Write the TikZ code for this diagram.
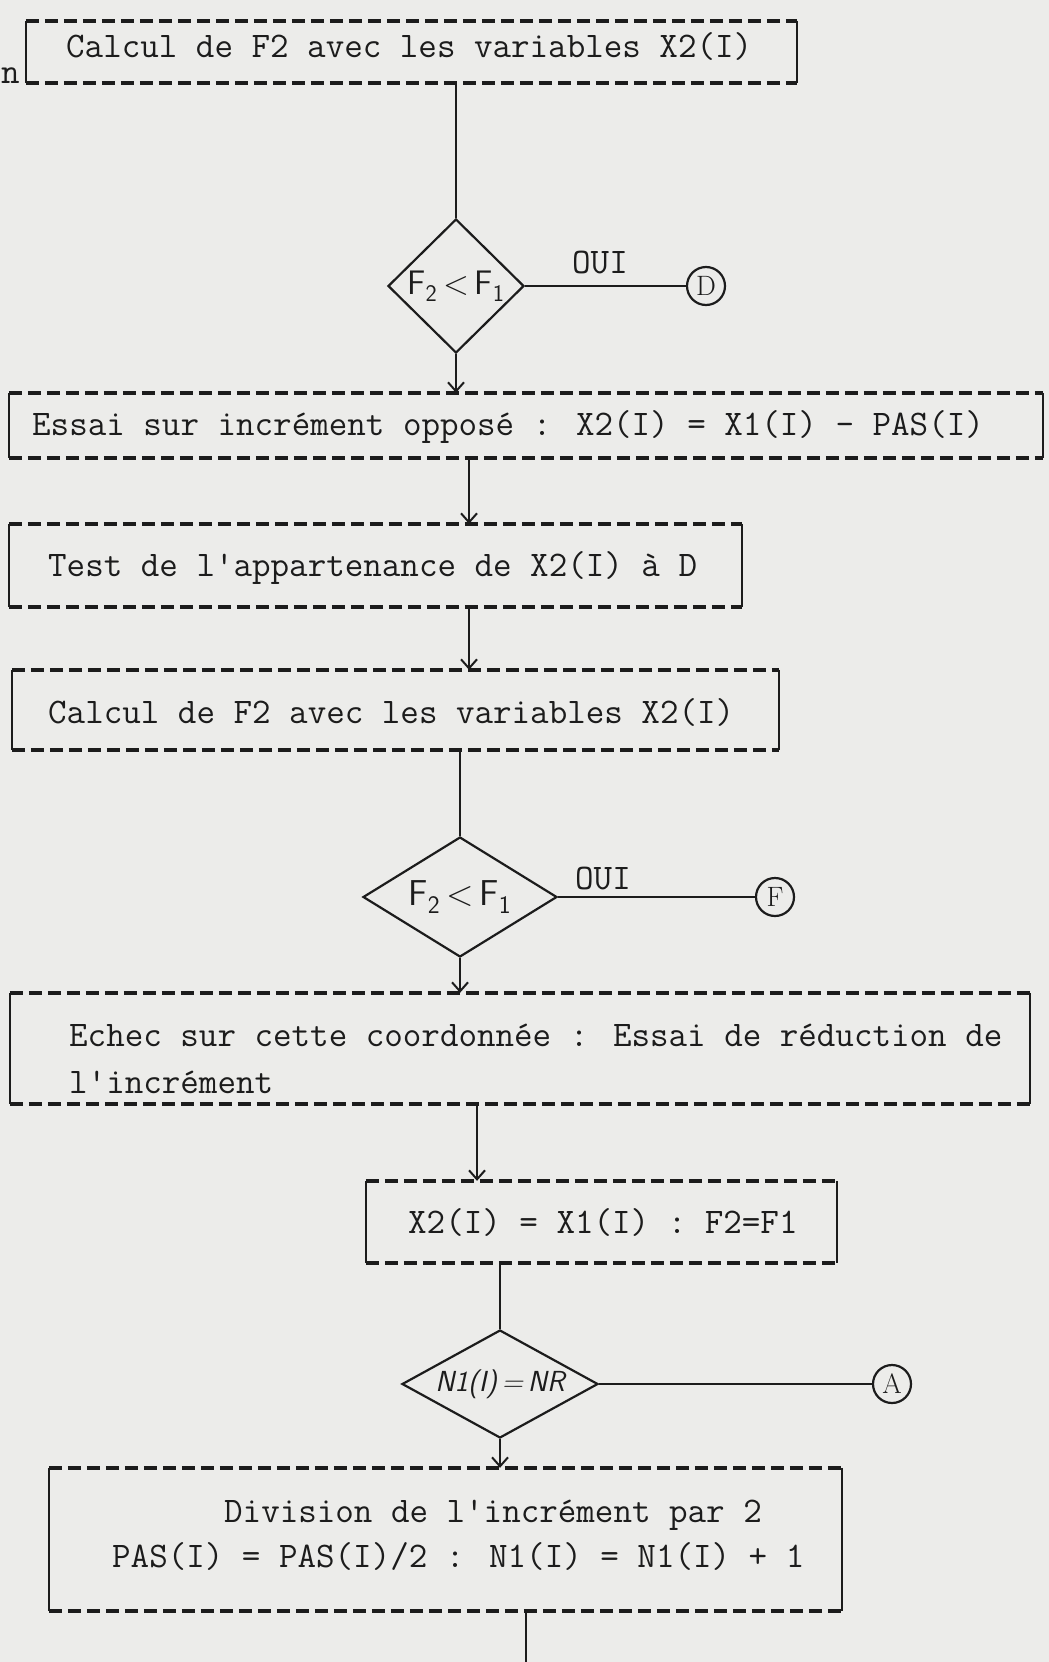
\documentclass[tikz,border=0pt]{standalone}
\usepackage{fontspec}
\usetikzlibrary{shapes.geometric,arrows.meta}
\definecolor{bg}{RGB}{236,236,234}
\definecolor{ink}{RGB}{28,28,28}
\newcommand\typewbox[1]{%
  \draw[dashline] (#1.north west) -- (#1.north east);
  \draw[dashline] (#1.south west) -- (#1.south east);
  \draw[sideline] (#1.north west) -- (#1.south west);
  \draw[sideline] (#1.north east) -- (#1.south east);}
\begin{document}
\begin{tikzpicture}[x=1pt,y=-1pt,
  tw/.style={font=\fontsize{36}{46}\selectfont\ttfamily, text=ink, inner sep=0pt, anchor=west, align=left},
  boxshape/.style={rectangle, inner sep=0pt},
  dashline/.style={draw=ink, line width=3.5pt, dash pattern=on 13pt off 6pt},
  sideline/.style={draw=ink, line width=1.6pt},
  conn/.style={draw=ink, line width=2pt},
  arr/.style={conn, -{Straight Barb[length=9pt,width=16pt]}},
  dec/.style={diamond, draw=ink, line width=2.2pt, inner sep=0pt, text=ink, font=\fontsize{34}{34}\selectfont\sffamily},
  conncirc/.style={circle, draw=ink, line width=2.2pt, minimum size=38pt, inner sep=0pt, text=ink, font=\fontsize{28}{28}\selectfont\rmfamily},
]
\fill[bg] (0,0) rectangle (1049,1662);
\useasboundingbox (0,0) rectangle (1049,1662);

% boxes
\node[boxshape, minimum width=771pt, minimum height=62pt] (b1) at (411.5,52) {};
\node[boxshape, minimum width=1034pt, minimum height=65pt] (b2) at (526,425.5) {};
\node[boxshape, minimum width=733pt, minimum height=83pt] (b3) at (375.5,565.5) {};
\node[boxshape, minimum width=767pt, minimum height=80pt] (b4) at (395.5,710) {};
\node[boxshape, minimum width=1020pt, minimum height=111pt] (b5) at (520,1048.5) {};
\node[boxshape, minimum width=471pt, minimum height=82pt] (b6) at (601.5,1222) {};
\node[boxshape, minimum width=793pt, minimum height=143pt] (b7) at (445.5,1539.5) {};
\typewbox{b1}\typewbox{b2}\typewbox{b3}\typewbox{b4}\typewbox{b5}\typewbox{b6}\typewbox{b7}

% texts
\node[tw] (t1) at (66,47) {Calcul de F2 avec les variables X2(I)};
\node[tw] (t2) at (32,427) {Essai sur incrément opposé : X2(I) = X1(I) - PAS(I)};
\node[tw] (t3) at (48,568) {Test de l'appartenance de X2(I) à D};
\node[tw] (t4) at (48,712) {Calcul de F2 avec les variables X2(I)};
\node[tw, font=\fontsize{36}{47}\selectfont\ttfamily] (t5) at (69,1059) {Echec sur cette coordonnée : Essai de réduction de\\l'incrément};
\node[tw] (t6) at (408,1222) {X2(I) = X1(I) : F2=F1};
\node[tw, font=\fontsize{36}{45}\selectfont\ttfamily] (t7) at (112,1535) {\hspace*{112pt}Division de l'incrément par 2\\PAS(I) = PAS(I)/2 : N1(I) = N1(I) + 1};
\node[tw, anchor=base west] (nn) at (1,84) {n};

% decisions
\node[dec, minimum width=136pt, minimum height=134pt] (d1) at (456,286) {F\textsubscript{2}\,<\,F\textsubscript{1}};
\node[dec, shape aspect=1.6, minimum width=194pt, minimum height=120pt, font=\fontsize{36}{36}\selectfont\sffamily] (d2) at (460,897) {F\textsubscript{2}\,<\,F\textsubscript{1}};
\node[dec, shape aspect=1.8, minimum width=196pt, minimum height=108pt, font=\fontsize{29}{29}\selectfont\sffamily\itshape] (d3) at (500,1384) {N1(I)\,=\,NR};

% connector circles
\node[conncirc] (D) at (706,286) {D};
\node[conncirc] (F) at (775,897) {F};
\node[conncirc] (A) at (892,1384) {A};
\node[tw, anchor=center] (oui1) at (600,262) {OUI};
\node[tw, anchor=center] (oui2) at (603,878) {OUI};

% column coordinates
\coordinate (k23) at (469,0);
\coordinate (k56) at (477,0);
\coordinate (kend) at (526,1662);

% connectors
\draw[conn] (b1.south -| d1.north) -- (d1.north);
\draw[arr] (d1.south) -- (d1.south |- b2.north);
\draw[arr] (b2.south -| k23) -- (b3.north -| k23);
\draw[arr] (b3.south -| k23) -- (b4.north -| k23);
\draw[conn] (b4.south -| d2.north) -- (d2.north);
\draw[arr] (d2.south) -- (d2.south |- b5.north);
\draw[arr] (b5.south -| k56) -- (b6.north -| k56);
\draw[conn] (b6.south -| d3.north) -- (d3.north);
\draw[arr] (d3.south) -- (d3.south |- b7.north);
\draw[conn] (b7.south -| kend) -- (kend);
\draw[conn] (d1.east) -- (D.west);
\draw[conn] (d2.east) -- (F.west);
\draw[conn] (d3.east) -- (A.west);
\end{tikzpicture}
\end{document}
